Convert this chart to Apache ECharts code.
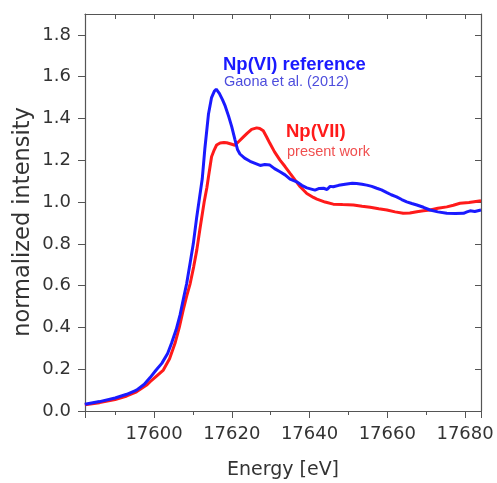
<!DOCTYPE html>
<html>
<head>
<meta charset="utf-8">
<script src="https://cdn.jsdelivr.net/npm/echarts@6/dist/echarts.min.js"></script>
<style>
html,body{margin:0;padding:0;background:#fff;}
#chart{width:497px;height:483px;}
</style>
</head>
<body>
<div id="chart"></div>
<script>
// Np(VI) reference (Gaona et al. 2012)
const energyVI = [17582.2,17586,17590,17593,17595.5,17597.5,17599,17600.5,17602,17603.5,17604.5,17605.7,17606.7,17607.6,17608.4,17609.3,17610.1,17611,17611.7,17612.4,17613.1,17614,17614.8,17615.5,17616,17616.8,17617.6,17618.3,17619.2,17620,17620.8,17621.5,17622.1,17623.3,17624.7,17626,17627.3,17628.5,17629.8,17631,17632.4,17633.7,17635,17636.7,17638,17639.3,17641.4,17642.5,17643.6,17644.5,17645.3,17646.1,17647.5,17649.6,17651,17652.1,17653.5,17654.7,17656,17657.3,17658.5,17659.9,17661,17662.4,17663.7,17665,17666.3,17667.6,17669.3,17671,17673,17675.3,17677.5,17679.6,17680.5,17681.3,17682.5,17684.1];
const intensityVI = [0.032,0.045,0.062,0.080,0.100,0.128,0.160,0.195,0.228,0.275,0.324,0.39,0.46,0.54,0.61,0.71,0.80,0.93,1.02,1.11,1.26,1.42,1.50,1.53,1.54,1.52,1.49,1.46,1.41,1.36,1.30,1.25,1.23,1.21,1.195,1.185,1.175,1.18,1.177,1.16,1.145,1.13,1.11,1.097,1.08,1.068,1.057,1.065,1.066,1.06,1.075,1.073,1.08,1.086,1.09,1.089,1.085,1.081,1.075,1.066,1.058,1.045,1.035,1.025,1.012,1.001,0.993,0.986,0.975,0.962,0.953,0.946,0.945,0.946,0.953,0.958,0.955,0.962];

// Np(VII) present work
const energyVII = [17582.2,17586,17590,17593,17595.5,17598.1,17599,17600.5,17602.4,17604,17605.4,17606.5,17607.5,17608.4,17609.3,17610.2,17611,17611.8,17612.9,17613.6,17614,17614.8,17615.5,17616.1,17617,17618,17618.7,17619.8,17620.8,17621.8,17623,17624,17625.1,17626.4,17627.2,17628.1,17629,17629.8,17631,17632.4,17633.7,17635,17636.3,17637.6,17639.3,17641,17641.9,17644,17646.1,17648.5,17651.3,17653.5,17655.6,17657.8,17659.9,17662,17664.1,17665.8,17667.6,17669.3,17671,17673,17675.3,17677,17678.7,17681,17684.1];
const intensityVII = [0.030,0.040,0.055,0.072,0.092,0.124,0.140,0.165,0.196,0.25,0.324,0.40,0.483,0.55,0.61,0.69,0.77,0.87,1.00,1.07,1.12,1.217,1.25,1.273,1.283,1.285,1.284,1.278,1.272,1.29,1.312,1.33,1.348,1.355,1.352,1.341,1.31,1.281,1.24,1.201,1.17,1.137,1.105,1.073,1.041,1.022,1.014,1.00,0.99,0.988,0.986,0.98,0.975,0.968,0.962,0.953,0.946,0.948,0.954,0.958,0.962,0.970,0.977,0.985,0.994,0.998,1.006];

const xMin = 17582.25, xMax = 17684.1;
const yMin = 0, yMax = 1.9, yStep = 0.2;

const zip = (xs, ys) => xs.map((x, i) => [x, ys[i]]);

const chart = echarts.init(document.getElementById('chart'), null, {renderer: 'canvas'});
const axisCol = '#555555';
const labelFont = 'DejaVu Sans';
const hiddenLabel = {show: true, inside: true, color: 'rgba(0,0,0,0)', fontSize: 8, margin: 8, showMinLabel: false, showMaxLabel: false};

chart.setOption({
  animation: false,
  backgroundColor: '#ffffff',
  grid: {left: 85, right: 16, top: 14, bottom: 72, containLabel: false, outerBoundsMode: 'none'},
  xAxis: [{
    type: 'value', position: 'bottom', min: xMin, max: xMax, splitNumber: 5,
    name: 'Energy [eV]', nameLocation: 'middle', nameGap: 50,
    nameTextStyle: {fontFamily: labelFont, fontSize: 19, color: '#333'},
    axisLine: {show: true, onZero: false, lineStyle: {color: axisCol, width: 1.2}},
    axisTick: {show: true, inside: false, length: 7, lineStyle: {color: axisCol}},
    minorTick: {show: true, splitNumber: 2, length: 4, lineStyle: {color: axisCol}},
    axisLabel: {show: true, showMinLabel: false, showMaxLabel: false, margin: 14, fontFamily: labelFont, fontSize: 18, color: '#333',
      formatter: v => String(Math.round(v))},
    splitLine: {show: false}, minorSplitLine: {show: false}
  }, {
    type: 'value', position: 'top', min: xMin, max: xMax, splitNumber: 5,
    axisLine: {show: true, onZero: false, lineStyle: {color: axisCol, width: 1.2}},
    axisTick: {show: true, inside: true, length: 5, lineStyle: {color: axisCol}},
    minorTick: {show: true, splitNumber: 2, length: 5, lineStyle: {color: axisCol}},
    axisLabel: hiddenLabel, splitLine: {show: false}, minorSplitLine: {show: false}
  }],
  yAxis: [{
    type: 'value', position: 'left', min: yMin, max: yMax, interval: yStep,
    axisLine: {show: true, onZero: false, lineStyle: {color: axisCol, width: 1.2}},
    axisTick: {show: true, inside: false, length: 7, lineStyle: {color: axisCol}},
    axisLabel: {show: true, showMaxLabel: false, margin: 14, fontFamily: labelFont, fontSize: 18, color: '#333',
      formatter: v => v.toFixed(1)},
    splitLine: {show: false}
  }, {
    type: 'value', position: 'right', min: yMin, max: yMax, interval: yStep,
    axisLine: {show: true, onZero: false, lineStyle: {color: axisCol, width: 1.2}},
    axisTick: {show: true, inside: true, length: 6, lineStyle: {color: axisCol}},
    axisLabel: hiddenLabel, splitLine: {show: false}
  }],
  series: [{
    name: 'Np(VII)', type: 'line', xAxisIndex: 0, yAxisIndex: 0,
    data: zip(energyVII, intensityVII), showSymbol: false, smooth: false,
    lineStyle: {color: '#ff1a1a', width: 3}, itemStyle: {color: '#ff1a1a'}
  }, {
    name: 'Np(VI)', type: 'line', xAxisIndex: 1, yAxisIndex: 1,
    data: zip(energyVI, intensityVI), showSymbol: false, smooth: false,
    lineStyle: {color: '#1a1aff', width: 3}, itemStyle: {color: '#1a1aff'}
  }],
  graphic: [
    {type: 'text', left: 223, top: 55, style: {text: 'Np(VI) reference', font: 'bold 18.5px "Liberation Sans", Arial, sans-serif', fill: '#1a1aff'}},
    {type: 'text', left: 224, top: 74, style: {text: 'Gaona et al. (2012)', font: '14.5px "Liberation Sans", Arial, sans-serif', fill: '#4d4ddd'}},
    {type: 'text', left: 286, top: 122, style: {text: 'Np(VII)', font: 'bold 18.5px "Liberation Sans", Arial, sans-serif', fill: '#ff1a1a'}},
    {type: 'text', left: 287, top: 144, style: {text: 'present work', font: '14.5px "Liberation Sans", Arial, sans-serif', fill: '#f05050'}},
    {type: 'text', x: 23, y: 222, rotation: Math.PI / 2,
      style: {text: 'normalized intensity', font: '22.5px "DejaVu Sans", sans-serif', fill: '#333', textAlign: 'center', textVerticalAlign: 'middle'}}
  ]
});
</script>
</body>
</html>
